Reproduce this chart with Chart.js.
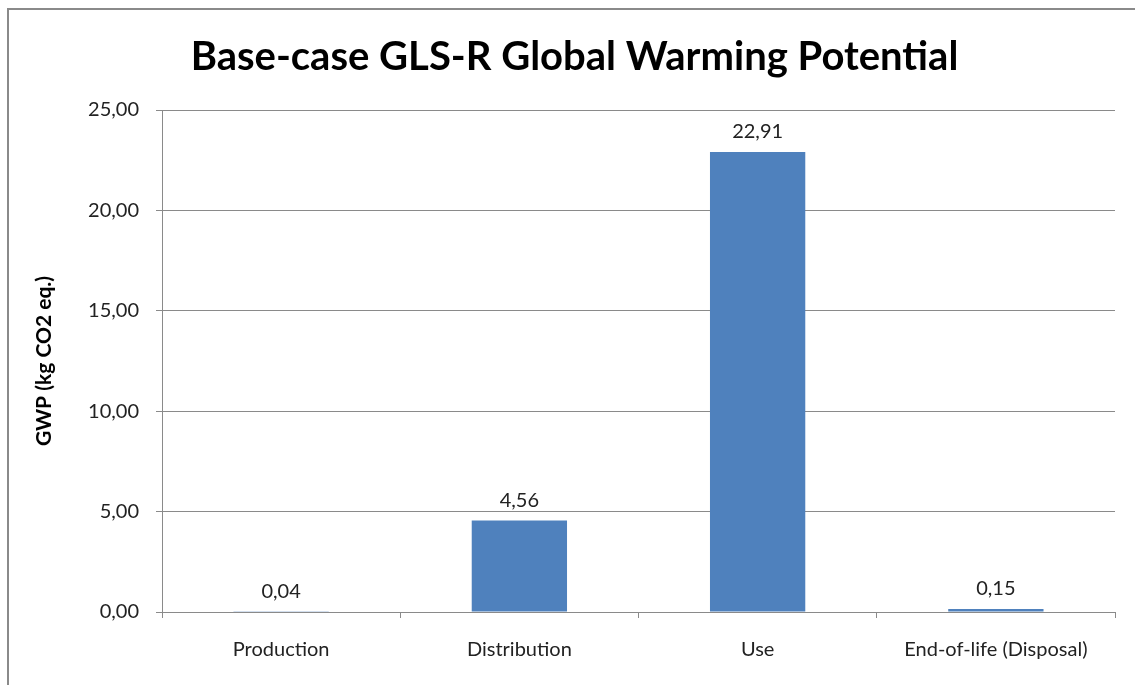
<!DOCTYPE html>
<html>
<head>
<meta charset="utf-8">
<script src="https://cdn.jsdelivr.net/npm/chart.js@4.4.0/dist/chart.umd.min.js"></script>
<style>
  html, body { margin: 0; padding: 0; background: #fff; }
  #wrap { width: 1135px; height: 685px; position: relative; }
</style>
</head>
<body>
<div id="wrap"><canvas id="c" width="1135" height="685"></canvas></div>
<script>
const categories = ["Production", "Distribution", "Use", "End-of-life (Disposal)"];
const gwpValues = [0.04, 4.56, 22.91, 0.15];
const yTicks = [0, 5, 10, 15, 20, 25];
const chartTitle = "Base-case GLS-R Global Warming Potential";
const yTitle = "GWP (kg CO2 eq.)";

const fmt = v => v.toFixed(2).replace('.', ',');

const frame = {
  id: 'frame',
  beforeDraw(chart) {
    const ctx = chart.ctx;
    ctx.save();
    ctx.fillStyle = '#ffffff';
    ctx.fillRect(0, 0, chart.width, chart.height);
    ctx.strokeStyle = '#8a8a8a';
    ctx.lineWidth = 2;
    ctx.beginPath();
    ctx.moveTo(8, chart.height);
    ctx.lineTo(8, 9);
    ctx.lineTo(chart.width, 9);
    ctx.stroke();
    ctx.restore();
  }
};

const valueLabels = {
  id: 'valueLabels',
  afterDatasetsDraw(chart) {
    const ctx = chart.ctx;
    const meta = chart.getDatasetMeta(0);
    ctx.save();
    ctx.font = '20px Lato';
    ctx.fillStyle = '#222';
    ctx.textAlign = 'center';
    ctx.textBaseline = 'bottom';
    meta.data.forEach((bar, i) => {
      ctx.fillText(fmt(chart.data.datasets[0].data[i]), bar.x, bar.y - 10);
    });
    ctx.restore();
  }
};

new Chart(document.getElementById('c'), {
  type: 'bar',
  data: {
    labels: categories,
    datasets: [{
      data: gwpValues,
      backgroundColor: '#4F81BD',
      borderWidth: 0,
      categoryPercentage: 1.0,
      barPercentage: 0.4
    }]
  },
  options: {
    responsive: false,
    animation: false,
    layout: { padding: { top: 22, right: 20, bottom: 0, left: 34 } },
    plugins: {
      legend: { display: false },
      tooltip: { enabled: false },
      title: {
        display: true,
        text: chartTitle,
        color: '#000',
        font: { family: 'Lato', size: 40, weight: 'bold' },
        padding: { top: 11, bottom: 29 }
      }
    },
    scales: {
      x: {
        afterFit(scale) { scale.height = 73; },
        grid: { display: true, drawOnChartArea: false, drawTicks: true, tickLength: 6, offset: true, color: '#8a8a8a' },
        border: { display: true, color: '#8a8a8a', width: 1 },
        ticks: { color: '#222', font: { family: 'Lato', size: 20 }, padding: 20 }
      },
      y: {
        min: 0, max: 25,
        afterFit(scale) { scale.width = 128; },
        afterBuildTicks(scale) { scale.ticks = yTicks.map(v => ({ value: v })); },
        grid: { color: '#8a8a8a', tickLength: 6 },
        border: { display: true, color: '#8a8a8a', width: 1 },
        ticks: { color: '#222', font: { family: 'Lato', size: 20 }, padding: 17, callback: v => fmt(v) },
        title: {
          display: true, text: yTitle, color: '#000',
          font: { family: 'Lato', size: 21, weight: 'bold' },
          padding: { top: -2, bottom: 0 }
        }
      }
    }
  },
  plugins: [frame, valueLabels]
});
</script>
</body>
</html>
